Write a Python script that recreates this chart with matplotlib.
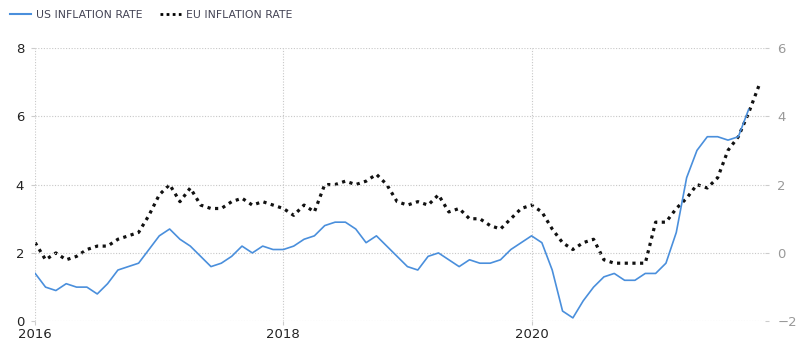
import numpy as np
import matplotlib.pyplot as plt
from matplotlib.lines import Line2D

# monthly values, Jan 2016 onwards
us_rate = [1.4, 1.0, 0.9, 1.1, 1.0, 1.0, 0.8, 1.1, 1.5, 1.6, 1.7, 2.1,
           2.5, 2.7, 2.4, 2.2, 1.9, 1.6, 1.7, 1.9, 2.2, 2.0, 2.2, 2.1,
           2.1, 2.2, 2.4, 2.5, 2.8, 2.9, 2.9, 2.7, 2.3, 2.5, 2.2, 1.9,
           1.6, 1.5, 1.9, 2.0, 1.8, 1.6, 1.8, 1.7, 1.7, 1.8, 2.1, 2.3,
           2.5, 2.3, 1.5, 0.3, 0.1, 0.6, 1.0, 1.3, 1.4, 1.2, 1.2, 1.4,
           1.4, 1.7, 2.6, 4.2, 5.0, 5.4, 5.4, 5.3, 5.4, 6.2]
eu_rate = [0.3, -0.2, 0.0, -0.2, -0.1, 0.1, 0.2, 0.2, 0.4, 0.5, 0.6, 1.1,
           1.7, 2.0, 1.5, 1.9, 1.4, 1.3, 1.3, 1.5, 1.6, 1.4, 1.5, 1.4,
           1.3, 1.1, 1.4, 1.2, 2.0, 2.0, 2.1, 2.0, 2.1, 2.3, 2.0, 1.5,
           1.4, 1.5, 1.4, 1.7, 1.2, 1.3, 1.0, 1.0, 0.8, 0.7, 1.0, 1.3,
           1.4, 1.2, 0.7, 0.3, 0.1, 0.3, 0.4, -0.2, -0.3, -0.3, -0.3, -0.3,
           0.9, 0.9, 1.3, 1.6, 2.0, 1.9, 2.2, 3.0, 3.4, 4.1, 4.9]
year_ticks = [2016, 2018, 2020]
left_ticks = [0, 2, 4, 6, 8]
right_ticks = [-2, 0, 2, 4, 6]

t_us = 2016 + np.arange(len(us_rate)) / 12
t_eu = 2016 + np.arange(len(eu_rate)) / 12

fig = plt.figure(figsize=(8, 3.57), dpi=100)
ax = fig.add_axes([0.044, 0.1, 0.912, 0.766])
ax2 = ax.twinx()

ax.plot(t_us, us_rate, color='#4a8fdc', lw=1.2)
ax2.plot(t_eu, eu_rate, color='#111111', lw=2.3, linestyle=(0, (1, 1.4)))

ax.set_xlim(2016, 2021.88)
ax.set_ylim(0, 8)
ax2.set_ylim(-2, 6)
ax.set_xticks(year_ticks)
ax.set_xticklabels([str(y) for y in year_ticks])
ax.set_yticks(left_ticks)
ax2.set_yticks(right_ticks)

ax.grid(True, linestyle=(0, (1, 1.5)), color='#c8c8c8', lw=0.8)
for a in (ax, ax2):
    for s in a.spines.values():
        s.set_visible(False)
ax.tick_params(axis='y', labelcolor='#222222', labelsize=9.5, length=3, color='#cccccc', pad=5)
ax.tick_params(axis='x', labelcolor='#222222', labelsize=9.5, length=3, color='#cccccc', pad=2)
ax2.tick_params(axis='y', labelcolor='#999999', labelsize=9.5, length=3, color='#cccccc', pad=6)
ax.set_zorder(ax2.get_zorder() + 1)
ax.patch.set_visible(False)

handles = [Line2D([], [], color='#4a8fdc', lw=1.5),
           Line2D([], [], color='black', lw=2, linestyle=(0, (1, 1.2)))]
fig.legend(handles, ['US INFLATION RATE', 'EU INFLATION RATE'], loc='upper left',
           bbox_to_anchor=(0.0, 1.0), ncol=2, frameon=False, fontsize=7.8,
           handlelength=2.0, handletextpad=0.4, columnspacing=1.6,
           labelcolor='#444455')

fig.savefig('out.png', dpi=100)
